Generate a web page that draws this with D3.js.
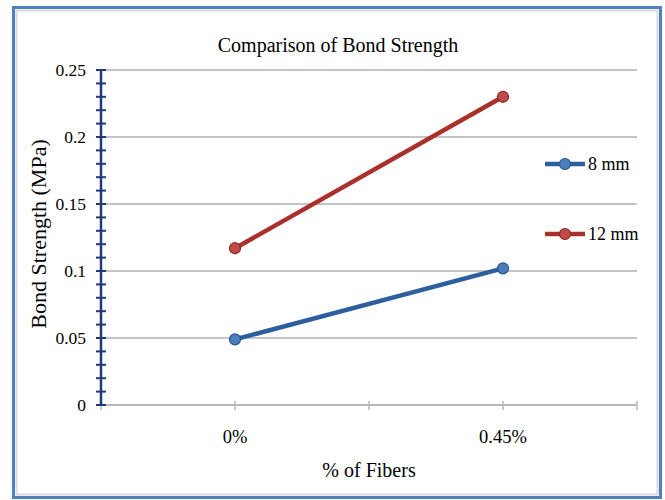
<!DOCTYPE html>
<html>
<head>
<meta charset="utf-8">
<script src="https://cdnjs.cloudflare.com/ajax/libs/d3/7.8.5/d3.min.js"></script>
<style>
  body { margin: 0; background: #fff; }
  text { font-family: "Liberation Serif", "Times New Roman", serif; fill: #000; }
</style>
</head>
<body>
<div id="chart"></div>
<script>
// data
var categories = ["0%", "0.45%"];
var series_names = ["8 mm", "12 mm"];
var values_8mm = [0.049, 0.102];
var values_12mm = [0.117, 0.230];
var y_ticks = [0, 0.05, 0.1, 0.15, 0.2, 0.25];
var y_labels = ["0", "0.05", "0.1", "0.15", "0.2", "0.25"];

var W = 665, H = 500;
var plot = {left: 101, right: 637, top: 70, bottom: 405};

var svg = d3.select("#chart").append("svg")
    .attr("width", W)
    .attr("height", H);

// outer frame
svg.append("rect")
    .attr("x", 13.5).attr("y", 7.5)
    .attr("width", 647).attr("height", 490)
    .attr("fill", "#fff")
    .attr("stroke", "#4F81BD")
    .attr("stroke-width", 3);
svg.append("rect")
    .attr("x", 16.5).attr("y", 10.5)
    .attr("width", 641).attr("height", 484)
    .attr("fill", "none")
    .attr("stroke", "#d9d9d9")
    .attr("stroke-width", 2);

var x = d3.scaleBand().domain(categories).range([plot.left, plot.right]);
var y = d3.scaleLinear().domain([0, 0.25]).range([plot.bottom, plot.top]);

function label(g, tx, ty, str, size, anchor, rot) {
    var t = "translate(" + tx + "," + ty + ")" + (rot ? " rotate(" + rot + ")" : "");
    return g.append("text")
        .attr("transform", t)
        .attr("text-anchor", anchor)
        .attr("dominant-baseline", "central")
        .style("font-size", size + "px")
        .text(str);
}

// gridlines
svg.append("g").selectAll("line")
    .data(y_ticks.slice(1))
    .enter().append("line")
    .attr("x1", plot.left).attr("x2", plot.right)
    .attr("y1", function (d) { return y(d); })
    .attr("y2", function (d) { return y(d); })
    .attr("stroke", "#c4c4c4")
    .attr("stroke-width", 2);

// x axis
var xa = svg.append("g");
xa.append("line")
    .attr("x1", plot.left).attr("x2", plot.right)
    .attr("y1", plot.bottom).attr("y2", plot.bottom)
    .attr("stroke", "#b8b8b8").attr("stroke-width", 2);
var xticks = [plot.left];
categories.forEach(function (c) {
    xticks.push(x(c) + x.bandwidth() / 2);
    xticks.push(x(c) + x.bandwidth());
});
xa.selectAll(".xt").data(xticks).enter().append("line")
    .attr("class", "xt")
    .attr("x1", function (d) { return d; }).attr("x2", function (d) { return d; })
    .attr("y1", plot.bottom - 4).attr("y2", plot.bottom + 5)
    .attr("stroke", "#b8b8b8").attr("stroke-width", 1.5);
categories.forEach(function (c) {
    label(svg, x(c) + x.bandwidth() / 2, 437, c, 18.5, "middle");
});
label(svg, (plot.left + plot.right) / 2, 470, "% of Fibers", 20, "middle");

// y axis with cross ticks
var ya = svg.append("g");
ya.append("line")
    .attr("x1", plot.left).attr("x2", plot.left)
    .attr("y1", plot.top).attr("y2", plot.bottom)
    .attr("stroke", "#1F3A78").attr("stroke-width", 2.5);
ya.selectAll(".yt").data(d3.range(0, 0.2501, 0.01)).enter().append("line")
    .attr("class", "yt")
    .attr("x1", plot.left - 5).attr("x2", plot.left + 5)
    .attr("y1", function (d) { return y(d); })
    .attr("y2", function (d) { return y(d); })
    .attr("stroke", "#1F3A78").attr("stroke-width", 2);
y_ticks.forEach(function (d, i) {
    label(svg, 86, y(d), y_labels[i], 17.5, "end");
});
label(svg, 38, 234, "Bond Strength (MPa)", 22, "middle", -90);

// title
label(svg, 338, 45, "Comparison of Bond Strength", 20, "middle");

// series
var series = [
    {name: series_names[0], values: values_8mm, line: "#2D5E9E", fill: "#4A7EBB", stroke: "#2A5690"},
    {name: series_names[1], values: values_12mm, line: "#A9302B", fill: "#BE4B48", stroke: "#8E2A26"}
];

var line = d3.line()
    .x(function (d, i) { return x(categories[i]) + x.bandwidth() / 2; })
    .y(function (d) { return y(d); });

series.forEach(function (s) {
    svg.append("path")
        .datum(s.values)
        .attr("d", line)
        .attr("fill", "none")
        .attr("stroke", s.line)
        .attr("stroke-width", 4.5);
    svg.append("g").selectAll("circle")
        .data(s.values)
        .enter().append("circle")
        .attr("cx", function (d, i) { return x(categories[i]) + x.bandwidth() / 2; })
        .attr("cy", function (d) { return y(d); })
        .attr("r", 5.5)
        .attr("fill", s.fill)
        .attr("stroke", s.stroke)
        .attr("stroke-width", 1.2);
});

// legend
var legend = svg.append("g").selectAll("g")
    .data(series)
    .enter().append("g")
    .attr("transform", function (d, i) { return "translate(545," + (164 + i * 70) + ")"; });
legend.append("line")
    .attr("x1", 0).attr("x2", 40)
    .attr("stroke", function (d) { return d.line; })
    .attr("stroke-width", 4.5);
legend.append("circle")
    .attr("cx", 20).attr("r", 5.5)
    .attr("fill", function (d) { return d.fill; })
    .attr("stroke", function (d) { return d.stroke; })
    .attr("stroke-width", 1.2);
legend.each(function (d) {
    label(d3.select(this), 43, 0, d.name, 18, "start");
});
</script>
</body>
</html>
